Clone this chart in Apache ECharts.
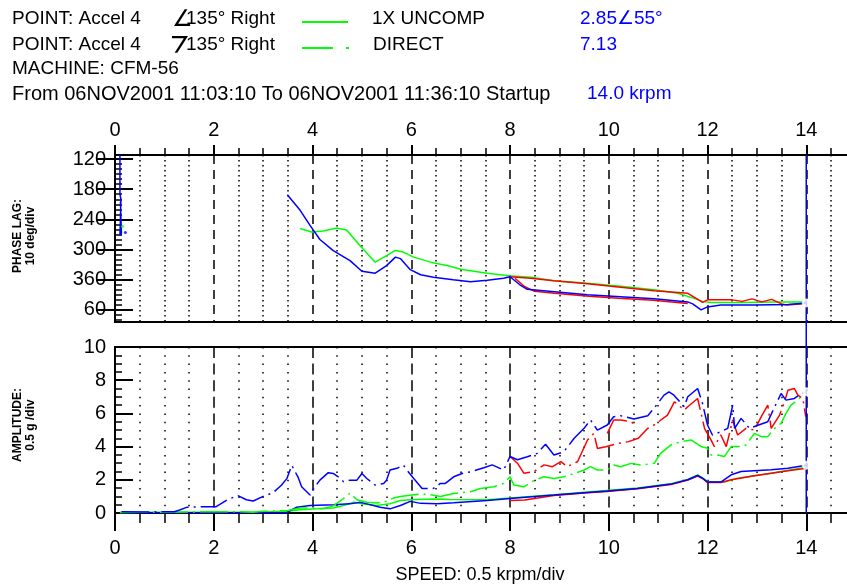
<!DOCTYPE html>
<html><head><meta charset="utf-8">
<script src="https://cdn.jsdelivr.net/npm/echarts@6/dist/echarts.min.js"></script>
<style>html,body{margin:0;padding:0;background:#fff}#c{width:847px;height:586px}</style>
</head><body><div id="c"></div>
<script>
// ---- tick labels ----
const phaseMajorTicks = [120, 180, 240, 300, 360, 420];
const phaseMinorTicks = [130,140,150,160,170,190,200,210,220,230,250,260,270,280,290,310,320,330,340,350,370,380,390,400,410,430,440];
const ampMinorTicks = [0.5,1,1.5,2.5,3,3.5,4.5,5,5.5,6.5,7,7.5,8.5,9,9.5];
const speedRange = [0, 16];
const phaseRange = [112, 444];
const ampRange = [0, 10];

// ---- phase lag (deg) vs speed (krpm) ----
const phaseBlueStart = [[0.1,112],[0.1,190],[0.12,200],[0.1,272],[0.13,268],[0.11,205]];
const phaseBlueDot = [[0.21,266]];
const phaseGreenDot = [[0.15,254]];
const phaseBlue1X = [[3.49,191],[3.75,222],[3.95,252],[4.15,280],[4.42,302],[4.76,322],[5.0,343],[5.27,347],[5.5,332],[5.68,315],[5.78,318],[5.98,340],[6.19,350],[6.45,355],[6.85,360],[7.2,364],[7.54,361],[7.87,357],[8.0,354],[8.2,370],[8.35,379],[8.9,384],[9.57,390],[10.24,394],[10.92,398],[11.6,404],[11.7,408],[11.87,420],[12.0,414],[12.27,410],[12.95,410],[13.63,409],[14.0,406]];
const phaseGreen1X = [[3.75,258],[3.98,265],[4.22,263],[4.49,257],[4.69,261],[4.96,292],[5.27,325],[5.5,312],[5.67,302],[5.84,305],[6.05,315],[6.39,325],[6.79,333],[7.0,339],[7.54,347],[7.97,352],[8.42,355],[8.89,362],[9.57,367],[10.24,373],[10.92,380],[11.4,387],[11.73,397],[11.9,403],[12.07,405],[12.7,405],[13.4,404],[14.0,404]];
const phaseRed1X = [[8.0,354],[8.42,357],[8.89,362],[9.57,368],[10.24,375],[10.92,382],[11.6,387],[11.77,397],[11.9,405],[12.0,400],[12.5,400],[12.7,403],[12.9,398],[13.1,404],[13.3,399],[13.5,408],[13.6,410],[14.0,407]];
const phaseRedLow = [[8.1,357],[8.3,374],[8.5,383],[8.9,387],[9.6,393],[10.2,397],[10.9,401],[11.6,407]];

// ---- amplitude (g) vs speed (krpm) ----
const ampBlueDirect = [[0.13,0.08],[0.6,0.06],[1.2,0.08],[1.31,0.18],[1.45,0.34],[1.72,0.38],[2.05,0.38],[2.29,0.82],[2.49,1.05],[2.66,0.8],[2.8,0.72],[3.0,1.0],[3.2,1.22],[3.37,1.67],[3.48,2.07],[3.58,2.87],[3.62,2.93],[3.71,2.14],[3.78,1.58],[3.95,1.08],[4.05,1.58],[4.15,1.98],[4.32,2.43],[4.42,2.38],[4.52,2.18],[4.63,1.88],[4.76,1.98],[4.9,1.98],[5.0,2.38],[5.1,2.08],[5.27,1.68],[5.44,1.78],[5.5,1.98],[5.57,2.59],[5.71,2.69],[5.84,2.89],[5.91,2.59],[6.05,2.08],[6.22,1.48],[6.45,1.48],[6.59,1.78],[6.69,1.78],[6.86,2.18],[7.03,2.38],[7.2,2.48],[7.47,2.73],[7.64,2.9],[7.87,2.59],[8.0,3.4],[8.15,3.21],[8.35,3.39],[8.55,3.59],[8.72,4.14],[8.89,3.49],[9.09,3.69],[9.3,4.5],[9.5,5.1],[9.63,5.6],[9.77,4.99],[9.97,5.3],[10.1,5.8],[10.24,5.86],[10.51,5.66],[10.79,5.86],[10.92,6.32],[11.12,7.1],[11.22,7.3],[11.32,7.1],[11.53,6.4],[11.6,7.0],[11.8,7.5],[11.9,6.59],[12.0,5.3],[12.1,4.7],[12.27,4.9],[12.41,5.1],[12.51,6.5],[12.55,5.1],[12.68,5.7],[12.85,5.1],[13.22,5.5],[13.49,7.2],[13.59,6.8],[13.76,6.9],[13.9,7.2],[14.0,7.3]];
const ampRedDirect = [[8.0,3.4],[8.15,3.0],[8.28,2.4],[8.48,2.49],[8.69,2.9],[8.86,2.79],[9.03,3.1],[9.16,2.79],[9.37,3.1],[9.57,4.4],[9.7,4.8],[9.77,3.89],[9.94,3.99],[10.2,4.2],[10.4,4.3],[10.6,4.5],[10.79,5.1],[10.92,5.3],[11.19,5.9],[11.33,6.7],[11.53,6.2],[11.6,6.4],[11.8,6.9],[11.94,5.1],[12.07,4.4],[12.14,4.0],[12.27,4.7],[12.38,4.0],[12.51,5.6],[12.61,4.7],[12.78,5.1],[12.95,5.0],[13.09,5.8],[13.22,6.5],[13.29,5.1],[13.46,5.9],[13.56,6.7],[13.63,7.4],[13.76,7.5],[13.83,7.1],[13.93,6.9],[13.99,5.8]];
const ampRedDirectUpper = [[9.97,4.8],[10.1,5.6],[10.24,5.6],[10.45,5.5],[10.55,5.3]];
const ampGreenDirect = [[0.1,0.02],[0.5,0.05],[1.0,0.05],[1.5,0.06],[2.0,0.08],[2.5,0.08],[2.8,0.05],[3.0,0.1],[3.5,0.15],[3.75,0.3],[4.0,0.3],[4.2,0.25],[4.4,0.4],[4.6,0.8],[4.76,1.2],[4.8,1.1],[4.9,0.8],[5.1,0.65],[5.3,0.6],[5.5,0.7],[5.64,0.9],[5.78,1.0],[6.05,1.1],[6.19,1.15],[6.38,1.1],[6.59,1.0],[6.86,1.18],[7.2,1.28],[7.4,1.48],[7.67,1.58],[7.87,1.78],[8.0,2.18],[8.08,1.68],[8.28,1.58],[8.5,1.98],[8.69,2.18],[8.89,2.08],[9.09,2.18],[9.3,2.38],[9.5,2.59],[9.63,2.79],[9.77,2.59],[9.97,2.59],[10.1,2.89],[10.24,2.79],[10.45,2.99],[10.65,2.89],[10.92,2.99],[11.05,3.59],[11.26,4.1],[11.46,4.3],[11.67,4.4],[11.87,4.0],[12.0,3.9],[12.07,3.5],[12.2,3.5],[12.34,3.4],[12.48,4.0],[12.68,4.0],[12.78,4.1],[12.95,4.8],[13.09,4.6],[13.22,4.6],[13.36,5.1],[13.49,5.4],[13.59,6.0],[13.69,6.5],[13.83,6.8],[13.97,7.3]];
const ampBlue1X = [[0.13,0.02],[1.0,0.02],[2.0,0.02],[3.0,0.02],[3.48,0.03],[3.68,0.35],[3.95,0.45],[4.42,0.5],[4.76,0.55],[4.96,0.65],[5.1,0.55],[5.37,0.35],[5.57,0.25],[5.78,0.45],[5.98,0.7],[6.19,0.58],[6.52,0.56],[6.86,0.62],[7.54,0.76],[8.0,0.88],[8.89,1.08],[9.57,1.24],[9.97,1.32],[10.58,1.48],[11.26,1.74],[11.6,2.0],[11.8,2.26],[11.9,2.1],[12.0,1.86],[12.27,1.86],[12.48,2.3],[12.68,2.5],[13.29,2.6],[13.63,2.7],[14.0,2.88]];
const ampRed1X = [[8.0,0.75],[8.3,0.78],[8.89,1.06],[9.57,1.22],[9.97,1.3],[10.58,1.46],[11.26,1.72],[11.6,1.98],[11.8,2.22],[11.9,2.08],[12.0,1.84],[12.27,1.84],[12.48,2.0],[12.95,2.25],[13.29,2.4],[13.63,2.55],[14.0,2.7]];
const ampGreen1X = [[0.1,0.04],[1.0,0.05],[2.0,0.05],[3.0,0.06],[3.5,0.1],[3.75,0.2],[4.1,0.25],[4.42,0.3],[4.63,0.45],[4.83,0.65],[5.0,0.56],[5.3,0.45],[5.57,0.56],[5.78,0.75],[5.98,0.8],[6.45,0.85],[6.79,0.82],[7.54,0.8],[8.0,0.9],[8.89,1.1],[9.57,1.26],[10.58,1.5],[11.26,1.76],[11.6,2.02],[11.8,2.3],[12.0,1.9],[12.34,1.86],[12.61,2.1],[13.29,2.4],[14.0,2.75]];
const cursorSpeed = 14;
const frameRight = 15;   // right frame edge of the phase plot (krpm)

const BLUE='#0000ff', RED='#ff0000', GREEN='#00ff00', BLACK='#000';
const FONT = '"Liberation Sans", Arial, sans-serif';
const DIRECT_DASH = [28,5,2,5];

const chart = echarts.init(document.getElementById('c'), null, {renderer:'canvas'});
const GL = 115, GW = 790;
const PXU = GW / (speedRange[1] - speedRange[0]);
const W = 847;

function lineSeries(data, color, xi, yi, dashed){
  return {type:'line', data:data, xAxisIndex:xi, yAxisIndex:yi, symbol:'none', showSymbol:false, animation:false, silent:true, z:2,
    lineStyle:{color:color, width:1.5, type: dashed ? DIRECT_DASH : 'solid'}};
}
function dotSeries(data, color, xi, yi){
  return {type:'scatter', data:data, xAxisIndex:xi, yAxisIndex:yi, symbol:'circle', symbolSize:3, animation:false, silent:true,
    itemStyle:{color:color}};
}
const lastOf = (arr) => arr[arr.length-1];

const xCommon = {type:'value', min:speedRange[0], max:speedRange[1], interval:2,
  axisLine:{show:true, onZero:false, lineStyle:{color:BLACK, width:2}},
  splitLine:{show:true, lineStyle:{color:BLACK, width:1.5, type:[9,6]}},
  minorSplitLine:{show:true, lineStyle:{color:BLACK, width:1.5, type:[1.5,3.5]}}
};
const hiddenX = (gi, max) => ({type:'value', gridIndex:gi, min:0, max:max, show:false,
  axisLine:{show:false}, axisTick:{show:false}, axisLabel:{show:false}, splitLine:{show:false}});

const option = {
  backgroundColor:'#fff',
  animation:false,
  grid:[
    {left:GL, top:155, width:GW, height:167, show:true, borderColor:BLACK, borderWidth:2, backgroundColor:'transparent', containLabel:false, outerBoundsMode:'none'},
    {left:GL, top:347, width:GW, height:166, show:true, borderColor:BLACK, borderWidth:2, backgroundColor:'transparent', containLabel:false, outerBoundsMode:'none'},
    // overlay grid ending at the phase plot's right frame edge (for the right-hand ticks)
    {left:GL, top:155, width:Math.round(frameRight * PXU), height:167, show:false, containLabel:false, outerBoundsMode:'none'},
    // overlay grid for the 10-degree minor ticks on the left
    {left:GL, top:155, width:GW, height:167, show:false, containLabel:false, outerBoundsMode:'none'}
  ],
  xAxis:[
    Object.assign({}, xCommon, {gridIndex:0, position:'top',
      axisTick:{show:true, length:10, lineStyle:{color:BLACK, width:2}},
      minorTick:{show:true, splitNumber:4, length:7, lineStyle:{color:BLACK, width:1.5}},
      axisLabel:{show:true, color:BLACK, fontSize:20, fontFamily:FONT, margin:15}
    }),
    Object.assign({}, xCommon, {gridIndex:1, position:'bottom',
      minorSplitLine:{show:true, lineStyle:{color:BLACK, width:1.5, type:[1.5,6.8]}},
      splitLine:{show:true, lineStyle:{color:BLACK, width:1.5, type:[11,5.6]}},
      axisTick:{show:true, length:18, lineStyle:{color:BLACK, width:2}},
      minorTick:{show:true, splitNumber:4, length:10, lineStyle:{color:BLACK, width:1.5}},
      axisLabel:{show:true, color:BLACK, fontSize:20, fontFamily:FONT, margin:25}
    }),
    hiddenX(2, frameRight),
    hiddenX(3, speedRange[1])
  ],
  yAxis:[
    {type:'value', gridIndex:0, min:phaseRange[0], max:phaseRange[1], inverse:true, position:'left',
      axisLine:{show:true, lineStyle:{color:BLACK, width:2}},
      axisTick:{show:true, inside:true, length:18, customValues:phaseMajorTicks, lineStyle:{color:BLACK, width:2}},
      axisLabel:{show:true, customValues:phaseMajorTicks, color:BLACK, fontSize:20, fontFamily:FONT, margin:9,
        formatter:(v)=> String(v>360 ? v-360 : v)},
      splitLine:{show:false}},
    {type:'value', gridIndex:1, min:ampRange[0], max:ampRange[1], interval:2, position:'left',
      axisLine:{show:true, lineStyle:{color:BLACK, width:2}},
      axisTick:{show:true, inside:true, length:18, lineStyle:{color:BLACK, width:2}},
      minorTick:{show:true, splitNumber:4, length:7, lineStyle:{color:BLACK, width:1.5}},
      axisLabel:{show:true, color:BLACK, fontSize:20, fontFamily:FONT, margin:9},
      splitLine:{show:false}, minorSplitLine:{show:false}},
    {type:'value', gridIndex:2, min:phaseRange[0], max:phaseRange[1], inverse:true, position:'right',
      axisLine:{show:true, lineStyle:{color:'rgba(0,0,0,0)', width:1}},
      axisTick:{show:true, inside:true, length:19, customValues:phaseMajorTicks, lineStyle:{color:BLACK, width:2}},
      axisLabel:{show:false}, splitLine:{show:false}},
    {type:'value', gridIndex:3, min:phaseRange[0], max:phaseRange[1], inverse:true, position:'left',
      axisLine:{show:true, lineStyle:{color:BLACK, width:2}},
      axisTick:{show:true, inside:true, length:7, customValues:phaseMinorTicks, lineStyle:{color:BLACK, width:1.5}},
      axisLabel:{show:false}, splitLine:{show:false}}
  ],
  series:[
    lineSeries(phaseGreen1X, GREEN, 0, 0, false),
    lineSeries(phaseRedLow, RED, 0, 0, false),
    lineSeries(phaseRed1X, RED, 0, 0, false),
    lineSeries(phaseBlueStart, BLUE, 0, 0, false),
    lineSeries(phaseBlue1X, BLUE, 0, 0, false),
    dotSeries(phaseBlueDot, BLUE, 0, 0),
    dotSeries(phaseGreenDot, GREEN, 0, 0),

    lineSeries(ampGreen1X, GREEN, 1, 1, false),
    lineSeries(ampRed1X, RED, 1, 1, false),
    lineSeries(ampBlue1X, BLUE, 1, 1, false),
    lineSeries(ampGreenDirect, GREEN, 1, 1, true),
    lineSeries(ampRedDirect, RED, 1, 1, true),
    lineSeries(ampRedDirectUpper, RED, 1, 1, true),
    lineSeries(ampBlueDirect, BLUE, 1, 1, true),

    // anchor series so the overlay grids are laid out
    {type:'line', data:[], xAxisIndex:2, yAxisIndex:2, symbol:'none', silent:true},
    {type:'line', data:[], xAxisIndex:3, yAxisIndex:3, symbol:'none', silent:true},

    {type:'scatter', xAxisIndex:0, yAxisIndex:0, data:[lastOf(phaseBlue1X)], symbol:'emptyCircle', symbolSize:7, z:20,
      itemStyle:{color:'#fff', borderColor:BLUE, borderWidth:1.5}, silent:true},
    {type:'scatter', xAxisIndex:1, yAxisIndex:1, data:[lastOf(ampBlueDirect), lastOf(ampBlue1X)], symbol:'emptyCircle', symbolSize:7, z:20,
      itemStyle:{color:'#fff', borderColor:BLUE, borderWidth:1.5}, silent:true}
  ]
};
chart.setOption(option);

// positions from the chart's own scales
const px = (v) => Number(chart.convertToPixel({xAxisIndex:0}, v));
const pyPhase = (v) => Number(chart.convertToPixel({yAxisIndex:0}, v));
const pyAmp = (v) => Number(chart.convertToPixel({yAxisIndex:1}, v));
const cx = px(cursorSpeed);

function txt(x, y, s, color, size){
  return {type:'text', x:x, y:y, silent:true, z:10,
    style:{text:s, fill:color||BLACK, font:(size||19)+'px ' + FONT, textAlign:'left', textVerticalAlign:'middle'}};
}
function seg(x1,y1,x2,y2,color,w,z){
  return {type:'line', silent:true, z:z||10, shape:{x1:x1,y1:y1,x2:x2,y2:y2}, style:{stroke:color, lineWidth:w||2}};
}

const L1=19, L2=45, L3=69, L4=94;
chart.setOption({graphic:{elements: [
  seg(cx, pyPhase(phaseRange[0]), cx, pyAmp(ampRange[0]), BLUE, 1.5, 3),
  txt(12, L1, 'POINT: Accel 4'),
  {type:'text', x:172, y:L1+1, silent:true, z:10,
    style:{text:'∠', fill:BLACK, font:'23px ' + FONT, textAlign:'left', textVerticalAlign:'middle'}},
  txt(186, L1, '135° Right'),
  seg(302, L1+3, 348, L1+3, GREEN, 2),
  txt(372, L1, '1X UNCOMP'),
  txt(580, L1, '2.85∠55°', BLUE),
  txt(12, L2, 'POINT: Accel 4'),
  {type:'text', x:179, y:L2-3, rotation:Math.PI, silent:true, z:10,
    style:{text:'∠', fill:BLACK, font:'23px ' + FONT, textAlign:'center', textVerticalAlign:'middle'}},
  txt(186, L2, '135° Right'),
  seg(302, L2+3, 333, L2+3, GREEN, 2),
  seg(346, L2+3, 349, L2+3, GREEN, 2),
  txt(373, L2, 'DIRECT'),
  txt(580, L2, '7.13', BLUE),
  txt(12, L3, 'MACHINE: CFM-56'),
  txt(12, L4, 'From 06NOV2001 11:03:10 To 06NOV2001 11:36:10 Startup', BLACK, 20),
  txt(587, L4, '14.0 krpm', BLUE),
  {type:'text', x:24, y:236, rotation:Math.PI/2, silent:true, z:10,
    style:{text:'PHASE LAG:\n10 deg/div', fill:BLACK, font:'bold 12px ' + FONT, textAlign:'center', textVerticalAlign:'middle', lineHeight:13}},
  {type:'text', x:24, y:425, rotation:Math.PI/2, silent:true, z:10,
    style:{text:'AMPLITUDE:\n0.5 g /div', fill:BLACK, font:'bold 12px ' + FONT, textAlign:'center', textVerticalAlign:'middle', lineHeight:13}},
  {type:'text', x:480, y:575, silent:true, z:10,
    style:{text:'SPEED: 0.5 krpm/div', fill:BLACK, font:'18px ' + FONT, textAlign:'center', textVerticalAlign:'middle'}}
]}});
</script>
</body></html>
